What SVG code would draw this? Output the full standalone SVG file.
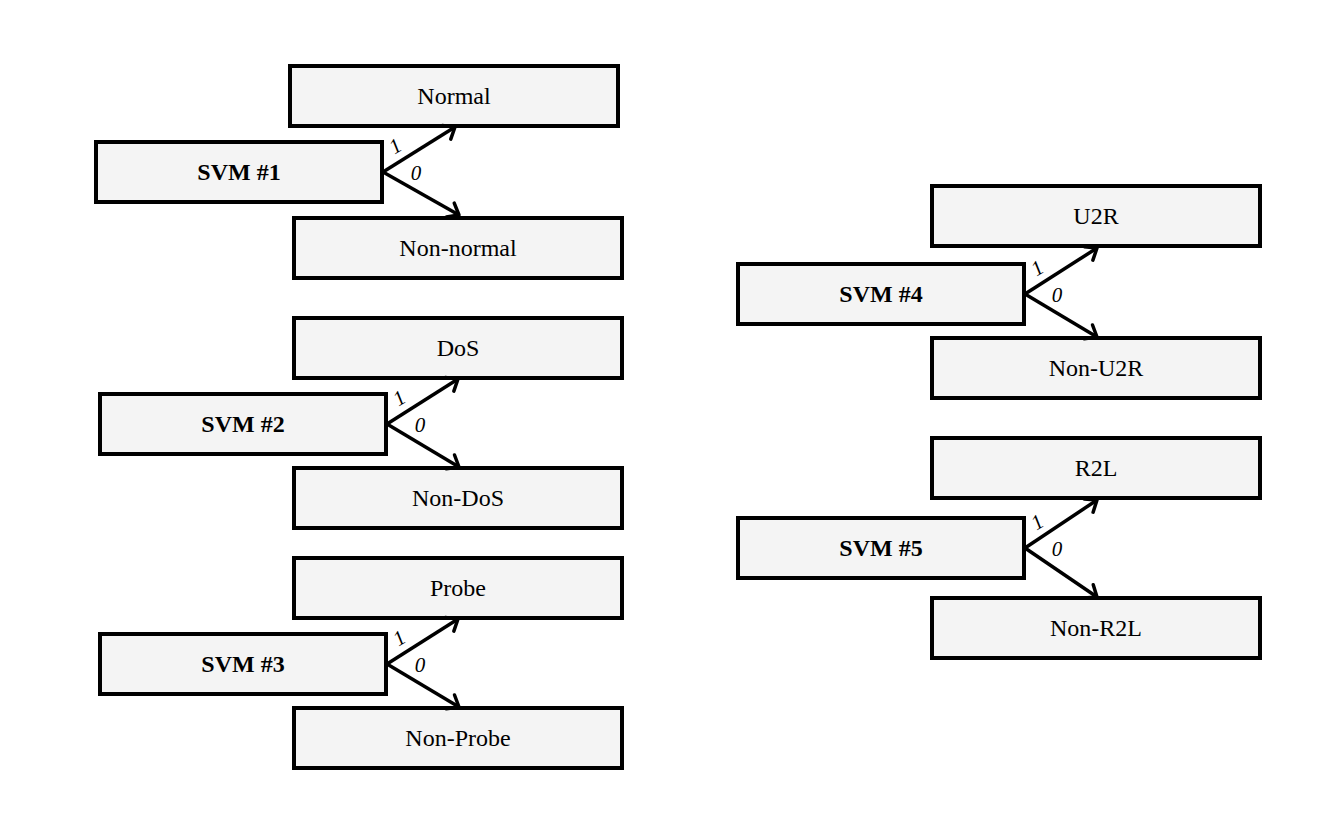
<svg xmlns="http://www.w3.org/2000/svg" width="1344" height="825" viewBox="0 0 1344 825">
<style>
.box{fill:#f4f4f4;stroke:#000;stroke-width:4}
.t{font-family:"Liberation Serif",serif;font-size:24px;text-anchor:middle;fill:#000}
.b{font-weight:bold}
.c{fill:none;stroke:#000;stroke-width:3.5;marker-end:url(#ah)}
.l{font-family:"Liberation Serif",serif;font-size:21px;font-style:italic;fill:#000;text-anchor:middle}
</style>
<defs>
<marker id="ah" markerUnits="userSpaceOnUse" markerWidth="28" markerHeight="28" refX="14" refY="14" orient="auto" viewBox="0 0 28 28">
<path d="M4,6 L14,14 L4,22" fill="none" stroke="#000" stroke-width="3.5" stroke-linecap="round" stroke-linejoin="round"/>
</marker>
</defs>
<rect width="1344" height="825" fill="#fff"/>
<g id="svm1"><rect class="box" x="96" y="142" width="286" height="60"/><text class="t b" x="239" y="180">SVM #1</text></g>
<g id="normal"><rect class="box" x="290" y="66" width="328" height="60"/><text class="t" x="454" y="104">Normal</text></g>
<g id="nonnormal"><rect class="box" x="294" y="218" width="328" height="60"/><text class="t" x="458" y="256">Non-normal</text></g>
<g id="svm2"><rect class="box" x="100" y="394" width="286" height="60"/><text class="t b" x="243" y="432">SVM #2</text></g>
<g id="dos"><rect class="box" x="294" y="318" width="328" height="60"/><text class="t" x="458" y="356">DoS</text></g>
<g id="nondos"><rect class="box" x="294" y="468" width="328" height="60"/><text class="t" x="458" y="506">Non-DoS</text></g>
<g id="svm3"><rect class="box" x="100" y="634" width="286" height="60"/><text class="t b" x="243" y="672">SVM #3</text></g>
<g id="probe"><rect class="box" x="294" y="558" width="328" height="60"/><text class="t" x="458" y="596">Probe</text></g>
<g id="nonprobe"><rect class="box" x="294" y="708" width="328" height="60"/><text class="t" x="458" y="746">Non-Probe</text></g>
<g id="svm4"><rect class="box" x="738" y="264" width="286" height="60"/><text class="t b" x="881" y="302">SVM #4</text></g>
<g id="u2r"><rect class="box" x="932" y="186" width="328" height="60"/><text class="t" x="1096" y="224">U2R</text></g>
<g id="nonu2r"><rect class="box" x="932" y="338" width="328" height="60"/><text class="t" x="1096" y="376">Non-U2R</text></g>
<g id="svm5"><rect class="box" x="738" y="518" width="286" height="60"/><text class="t b" x="881" y="556">SVM #5</text></g>
<g id="r2l"><rect class="box" x="932" y="438" width="328" height="60"/><text class="t" x="1096" y="476">R2L</text></g>
<g id="nonr2l"><rect class="box" x="932" y="598" width="328" height="60"/><text class="t" x="1096" y="636">Non-R2L</text></g>
<g id="connectors">
<line class="c" x1="383" y1="172" x2="455" y2="127"/>
<line class="c" x1="383" y1="172" x2="459" y2="215"/>
<line class="c" x1="387" y1="424" x2="458" y2="379"/>
<line class="c" x1="387" y1="424" x2="459" y2="467"/>
<line class="c" x1="387" y1="664" x2="458" y2="619"/>
<line class="c" x1="387" y1="664" x2="459" y2="707"/>
<line class="c" x1="1025" y1="294" x2="1097" y2="248"/>
<line class="c" x1="1025" y1="294" x2="1097" y2="337"/>
<line class="c" x1="1025" y1="548" x2="1097" y2="500"/>
<line class="c" x1="1025" y1="548" x2="1097" y2="597"/>
<text class="l" transform="translate(399,152) rotate(-32)">1</text>
<text class="l" x="416" y="180">0</text>
<text class="l" transform="translate(403,404) rotate(-32)">1</text>
<text class="l" x="420" y="432">0</text>
<text class="l" transform="translate(403,644) rotate(-32)">1</text>
<text class="l" x="420" y="672">0</text>
<text class="l" transform="translate(1041,274) rotate(-32)">1</text>
<text class="l" x="1057" y="302">0</text>
<text class="l" transform="translate(1041,528) rotate(-32)">1</text>
<text class="l" x="1057" y="556">0</text>
</g>
</svg>
